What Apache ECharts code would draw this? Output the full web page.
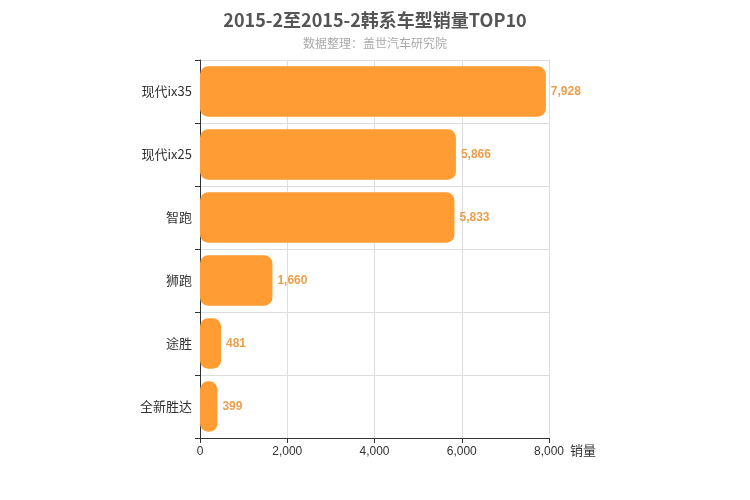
<!DOCTYPE html>
<html><head><meta charset="utf-8">
<script src="https://cdn.jsdelivr.net/npm/echarts@6/dist/echarts.min.js"></script>
<style>html,body{margin:0;padding:0}#c{width:750px;height:500px}</style>
</head><body><div id="c"></div>
<script>
const models = ['现代ix35', '现代ix25', '智跑', '狮跑', '途胜', '全新胜达'];
const sales = [7928, 5866, 5833, 1660, 481, 399];
const xTicks = { min: 0, max: 8000, interval: 2000 };

const chart = echarts.init(document.getElementById('c'));
chart.setOption({
  title: {
    text: '2015-2至2015-2韩系车型销量TOP10',
    subtext: '数据整理：盖世汽车研究院',
    left: 'center', top: 6, itemGap: 8,
    textStyle: { fontFamily: 'Noto Sans CJK SC', fontSize: 18, fontWeight: 'bold', color: '#555' },
    subtextStyle: { fontFamily: 'Noto Sans CJK SC', fontSize: 12, color: '#aaa' }
  },
  grid: { left: 200, right: 201, top: 60, bottom: 62 },
  xAxis: {
    type: 'value', min: xTicks.min, max: xTicks.max, interval: xTicks.interval,
    name: '销量', nameGap: 15,
    nameTextStyle: { fontFamily: 'Noto Sans CJK SC', fontSize: 13, color: '#333', verticalAlign: 'top', padding: [6, 0, 0, 0] },
    axisLine: { show: true, lineStyle: { color: '#333' } },
    axisTick: { show: true },
    axisLabel: { color: '#333', fontSize: 12 },
    splitLine: { lineStyle: { color: '#ddd' } }
  },
  yAxis: {
    type: 'category', data: models, inverse: true,
    axisLine: { lineStyle: { color: '#333' } },
    axisTick: { show: true },
    axisLabel: { color: '#333', fontSize: 13, fontFamily: 'Noto Sans CJK SC', margin: 8 },
    splitLine: { show: true, lineStyle: { color: '#ddd' } }
  },
  series: [{
    type: 'bar', data: sales, barWidth: '80%',
    itemStyle: { color: '#ff9c33', borderRadius: 8 },
    label: { show: true, position: 'right', color: '#e9a04c', fontWeight: 'bold', fontSize: 12,
      formatter: p => p.value.toLocaleString('en-US') }
  }]
});
</script></body></html>
